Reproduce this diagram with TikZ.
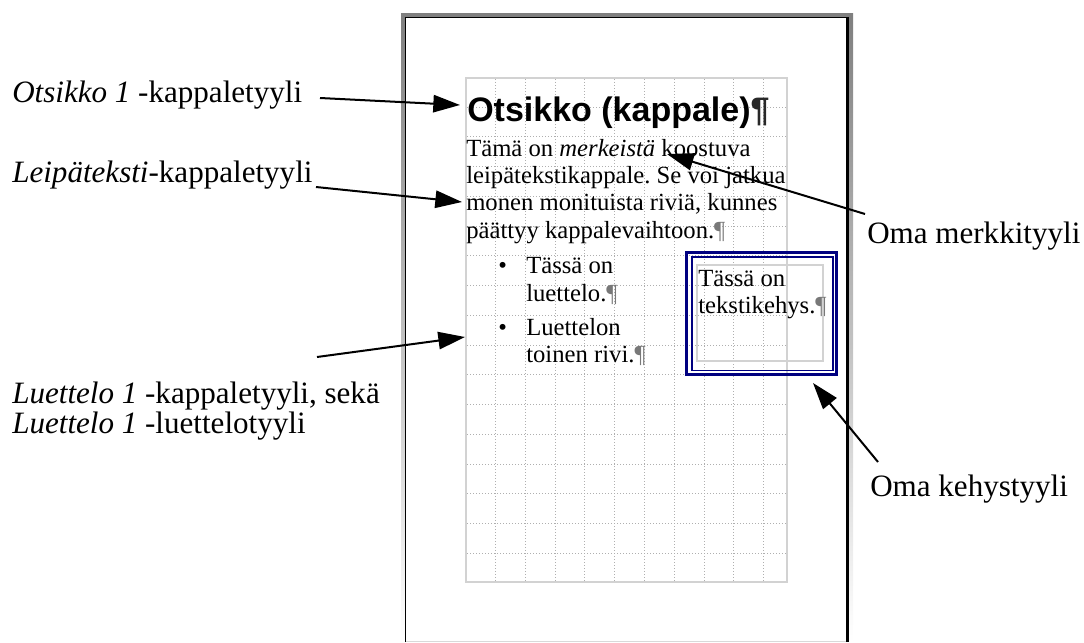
\documentclass[tikz,border=0pt]{standalone}
\usepackage{fontspec}
\setmainfont{Liberation Serif}
\newfontfamily\headfont{Liberation Sans}
\usetikzlibrary{arrows.meta}
\definecolor{navy}{RGB}{0,0,128}
\definecolor{shade}{RGB}{192,192,192}
\definecolor{gridc}{RGB}{175,175,175}
\definecolor{areac}{RGB}{210,210,210}
\definecolor{pilc}{RGB}{120,120,120}
\definecolor{hpilc}{RGB}{40,40,40}
\newcommand{\pil}{{\color{pilc}¶}}
\frenchspacing
\begin{document}
\begin{tikzpicture}[x=0.75pt,y=-0.75pt,
  lbl/.style={anchor=base west, inner sep=0pt, font=\fontsize{23.3pt}{28pt}\selectfont},
  body/.style={anchor=base west, inner sep=0pt, font=\fontsize{18.5pt}{22pt}\selectfont},
  head/.style={anchor=base west, inner sep=0pt, font=\headfont\bfseries\fontsize{25.5pt}{30pt}\selectfont},
  pointer/.style={draw=black, line width=1.5pt, -{Triangle[length=20pt,width=13pt]}},
  gridline/.style={draw=gridc, line width=0.6pt, dash pattern=on 0.75pt off 1.5pt}
]
\useasboundingbox (0,0) rectangle (1084,642);
% page
\fill[shade] (401,14) rectangle (853,642);
\fill[white] (405,17.5) rectangle (846,642);
\draw[black, line width=0.8pt] (405.5,642) -- (405.5,17.5) -- (847,17.5);
\draw[black, line width=2.25pt] (847.5,17) -- (847.5,642);
\draw[shade!60, line width=0.75pt] (406,641) -- (846,641);
% grid
\foreach \k in {0,...,9} {
  \draw[gridline] (495.3+29.8*\k,79) -- (495.3+29.8*\k,581);
}
\foreach \k in {0,...,15} {
  \draw[gridline] (467,107+29.75*\k) -- (786,107+29.75*\k);
}
\draw[areac, line width=1pt] (466,78) rectangle (787,582);
% heading
\node[head] (h) at (467,121) {Otsikko (kappale){\color{hpilc}¶}};
% body
\node[body] (b1) at (466,156) {Tämä on \textit{merkeistä} koostuva};
\node[body] (b2) at (466,183) {leipätekstikappale. Se voi jatkua};
\node[body] (b3) at (466,210) {monen monituista riviä, kunnes};
\node[body] (b4) at (466,238) {päättyy kappalevaihtoon.\pil};
% list
\node[body] (d1) at (498,273) {•};
\node[body] (l1) at (526,273) {Tässä on};
\node[body] (l2) at (526,301) {luettelo.\pil};
\node[body] (d2) at (498,335) {•};
\node[body] (l3) at (526,335) {Luettelon};
\node[body] (l4) at (526,362) {toinen rivi.\pil};
% frame
\draw[navy, line width=2.4pt] (686.5,252.5) rectangle (836.5,374.5);
\draw[navy, line width=1.2pt] (691.7,257) rectangle (833,370.5);
\draw[areac, line width=1pt] (697,265) rectangle (823,361);
\node[body] (f1) at (698,286) {Tässä on};
\node[body] (f2) at (698,313) {tekstikehys.\pil};
% labels
\node[lbl] (o1) at (12,103) {\textit{Otsikko 1} -kappaletyyli};
\node[lbl] (o2) at (12,182) {\textit{Leipäteksti}-kappaletyyli};
\node[lbl] (o3) at (12,403) {\textit{Luettelo 1} -kappaletyyli, sekä};
\node[lbl] (o4) at (12,433) {\textit{Luettelo 1} -luettelotyyli};
\node[lbl] (o5) at (867,243) {Oma merkkityyli};
\node[lbl] (o6) at (870,496) {Oma kehystyyli};
% arrows
\coordinate (s1) at (320,98);  \coordinate (t1) at (460,105);
\coordinate (s2) at (316,187); \coordinate (t2) at (462,202);
\coordinate (s3) at (317,357); \coordinate (t3) at (465,337);
\coordinate (s4) at (865,214); \coordinate (t4) at (667,154);
\coordinate (s5) at (878,462); \coordinate (t5) at (813,383);
\draw[pointer] (s1) -- (t1);
\draw[pointer] (s2) -- (t2);
\draw[pointer] (s3) -- (t3);
\draw[pointer] (s4) -- (t4);
\draw[pointer] (s5) -- (t5);
\end{tikzpicture}
\end{document}
